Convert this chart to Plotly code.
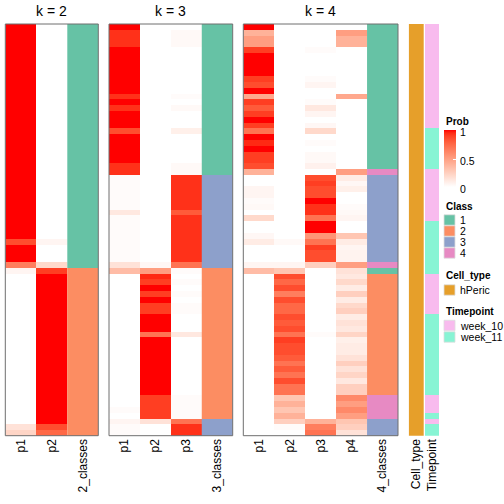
import plotly.graph_objects as go
import numpy as np

# ---------------- data ----------------
rows = list(range(71))

p1_k2 = [1.0, 1.0, 1.0, 1.0, 1.0, 1.0, 1.0, 1.0, 1.0, 1.0,
         1.0, 1.0, 1.0, 1.0, 1.0, 1.0, 1.0, 1.0, 1.0, 1.0,
         1.0, 1.0, 1.0, 1.0, 1.0, 1.0, 1.0, 1.0, 1.0, 1.0,
         1.0, 1.0, 1.0, 1.0, 1.0, 1.0, 1.0, 0.85, 1.0, 1.0,
         1.0, 0.65, 0.05, 0.0, 0.0, 0.0, 0.0, 0.0, 0.0, 0.0,
         0.0, 0.0, 0.0, 0.0, 0.0, 0.0, 0.0, 0.0, 0.0, 0.0,
         0.0, 0.0, 0.0, 0.0, 0.0, 0.0, 0.0, 0.0, 0.0, 0.15,
         0.22]
p2_k2 = [0.0, 0.0, 0.0, 0.0, 0.0, 0.0, 0.0, 0.0, 0.0, 0.0,
         0.0, 0.0, 0.0, 0.0, 0.0, 0.0, 0.0, 0.0, 0.0, 0.0,
         0.0, 0.0, 0.0, 0.0, 0.0, 0.0, 0.0, 0.0, 0.0, 0.0,
         0.0, 0.0, 0.0, 0.0, 0.0, 0.0, 0.0, 0.05, 0.0, 0.0,
         0.0, 0.2, 0.9, 1.0, 1.0, 1.0, 1.0, 1.0, 1.0, 1.0,
         1.0, 1.0, 1.0, 1.0, 1.0, 1.0, 1.0, 1.0, 1.0, 1.0,
         1.0, 1.0, 1.0, 1.0, 1.0, 1.0, 1.0, 1.0, 1.0, 0.85,
         0.75]
class_k2 = [1, 1, 1, 1, 1, 1, 1, 1, 1, 1,
            1, 1, 1, 1, 1, 1, 1, 1, 1, 1,
            1, 1, 1, 1, 1, 1, 1, 1, 1, 1,
            1, 1, 1, 1, 1, 1, 1, 1, 1, 1,
            1, 1, 2, 2, 2, 2, 2, 2, 2, 2,
            2, 2, 2, 2, 2, 2, 2, 2, 2, 2,
            2, 2, 2, 2, 2, 2, 2, 2, 2, 2,
            2]

p1_k3 = [1.0, 0.93, 0.93, 0.93, 1.0, 1.0, 1.0, 1.0, 1.0, 1.0,
         1.0, 1.0, 0.93, 1.0, 0.93, 1.0, 1.0, 1.0, 0.85, 1.0,
         1.0, 1.0, 1.0, 1.0, 0.93, 0.93, 0.02, 0.02, 0.02, 0.02,
         0.02, 0.02, 0.12, 0.02, 0.02, 0.02, 0.02, 0.02, 0.02, 0.02,
         0.02, 0.15, 0.35, 0.0, 0.0, 0.0, 0.0, 0.0, 0.0, 0.0,
         0.0, 0.0, 0.0, 0.0, 0.0, 0.0, 0.0, 0.0, 0.0, 0.0,
         0.0, 0.0, 0.0, 0.0, 0.0, 0.0, 0.02, 0.0, 0.05, 0.02,
         0.02]
p2_k3 = [0.0, 0.0, 0.0, 0.0, 0.0, 0.0, 0.0, 0.0, 0.0, 0.0,
         0.0, 0.0, 0.0, 0.0, 0.0, 0.0, 0.0, 0.0, 0.0, 0.0,
         0.0, 0.0, 0.0, 0.0, 0.0, 0.0, 0.0, 0.0, 0.0, 0.0,
         0.0, 0.0, 0.0, 0.0, 0.0, 0.0, 0.0, 0.0, 0.0, 0.0,
         0.0, 0.04, 0.5, 0.95, 0.9, 1.0, 0.9, 1.0, 0.9, 0.9,
         1.0, 1.0, 1.0, 0.7, 1.0, 1.0, 1.0, 1.0, 1.0, 1.0,
         1.0, 1.0, 1.0, 1.0, 0.9, 0.9, 0.9, 0.9, 0.15, 0.0,
         0.0]
p3_k3 = [0.0, 0.03, 0.03, 0.03, 0.0, 0.0, 0.0, 0.0, 0.0, 0.0,
         0.0, 0.0, 0.02, 0.0, 0.03, 0.0, 0.0, 0.0, 0.08, 0.0,
         0.0, 0.0, 0.0, 0.0, 0.03, 0.03, 0.93, 0.93, 0.93, 0.93,
         0.93, 0.93, 0.8, 0.93, 0.93, 0.93, 0.93, 0.93, 0.93, 0.93,
         0.93, 0.7, 0.02, 0.0, 0.02, 0.0, 0.02, 0.0, 0.02, 0.02,
         0.0, 0.0, 0.0, 0.12, 0.0, 0.0, 0.0, 0.0, 0.0, 0.0,
         0.0, 0.0, 0.0, 0.0, 0.02, 0.02, 0.02, 0.02, 0.7, 0.93,
         0.93]
class_k3 = [1, 1, 1, 1, 1, 1, 1, 1, 1, 1,
            1, 1, 1, 1, 1, 1, 1, 1, 1, 1,
            1, 1, 1, 1, 1, 1, 3, 3, 3, 3,
            3, 3, 3, 3, 3, 3, 3, 3, 3, 3,
            3, 3, 2, 2, 2, 2, 2, 2, 2, 2,
            2, 2, 2, 2, 2, 2, 2, 2, 2, 2,
            2, 2, 2, 2, 2, 2, 2, 2, 3, 3,
            3]

p1_k4 = [1.0, 0.4, 0.5, 0.5, 0.9, 1.0, 1.0, 1.0, 1.0, 0.9,
         0.85, 1.0, 0.45, 0.9, 0.8, 0.9, 1.0, 0.9, 0.7, 1.0,
         0.95, 1.0, 0.9, 0.9, 0.85, 0.4, 0.0, 0.0, 0.05, 0.05,
         0.02, 0.03, 0.0, 0.2, 0.0, 0.0, 0.04, 0.1, 0.0, 0.0,
         0.0, 0.05, 0.35, 0.0, 0.0, 0.0, 0.0, 0.0, 0.0, 0.0,
         0.0, 0.0, 0.0, 0.0, 0.0, 0.0, 0.0, 0.0, 0.0, 0.0,
         0.0, 0.0, 0.0, 0.0, 0.0, 0.0, 0.0, 0.0, 0.0, 0.0,
         0.0]
p2_k4 = [0.0, 0.0, 0.0, 0.0, 0.0, 0.0, 0.0, 0.0, 0.0, 0.0,
         0.0, 0.0, 0.0, 0.0, 0.0, 0.0, 0.0, 0.0, 0.0, 0.0,
         0.0, 0.0, 0.0, 0.0, 0.0, 0.0, 0.0, 0.0, 0.0, 0.0,
         0.0, 0.0, 0.0, 0.0, 0.0, 0.0, 0.0, 0.03, 0.0, 0.0,
         0.0, 0.05, 0.3, 0.85, 0.75, 0.85, 0.65, 0.85, 0.75, 0.75,
         0.85, 0.8, 0.85, 0.7, 0.9, 0.85, 0.85, 0.8, 0.7, 0.8,
         0.7, 0.85, 0.7, 0.7, 0.3, 0.4, 0.3, 0.4, 0.25, 0.02,
         0.0]
p3_k4 = [0.0, 0.0, 0.0, 0.0, 0.02, 0.0, 0.0, 0.0, 0.0, 0.02,
         0.05, 0.0, 0.0, 0.02, 0.12, 0.05, 0.0, 0.04, 0.2, 0.0,
         0.02, 0.0, 0.03, 0.03, 0.07, 0.0, 0.85, 0.9, 0.85, 0.85,
         1.0, 0.93, 0.93, 0.7, 1.0, 1.0, 0.55, 0.7, 0.9, 0.85,
         0.85, 0.25, 0.0, 0.0, 0.0, 0.0, 0.0, 0.0, 0.0, 0.0,
         0.0, 0.0, 0.0, 0.02, 0.0, 0.0, 0.0, 0.0, 0.0, 0.0,
         0.0, 0.0, 0.0, 0.0, 0.0, 0.0, 0.0, 0.0, 0.4, 0.65,
         0.7]
p4_k4 = [0.0, 0.5, 0.4, 0.4, 0.0, 0.0, 0.0, 0.0, 0.0, 0.0,
         0.0, 0.0, 0.45, 0.0, 0.0, 0.0, 0.0, 0.0, 0.0, 0.0,
         0.0, 0.0, 0.0, 0.0, 0.0, 0.5, 0.1, 0.04, 0.08, 0.0,
         0.0, 0.02, 0.03, 0.05, 0.0, 0.0, 0.3, 0.1, 0.05, 0.06,
         0.06, 0.5, 0.15, 0.12, 0.2, 0.1, 0.25, 0.1, 0.2, 0.25,
         0.1, 0.15, 0.12, 0.22, 0.08, 0.1, 0.1, 0.15, 0.25, 0.15,
         0.22, 0.12, 0.25, 0.25, 0.6, 0.5, 0.6, 0.5, 0.3, 0.25,
         0.15]
class_k4 = [1, 1, 1, 1, 1, 1, 1, 1, 1, 1,
            1, 1, 1, 1, 1, 1, 1, 1, 1, 1,
            1, 1, 1, 1, 1, 4, 3, 3, 3, 3,
            3, 3, 3, 3, 3, 3, 3, 3, 3, 3,
            3, 4, 1, 2, 2, 2, 2, 2, 2, 2,
            2, 2, 2, 2, 2, 2, 2, 2, 2, 2,
            2, 2, 2, 2, 4, 4, 4, 4, 3, 3,
            3]

cell_type = ["hPeric"] * 71
timepoint = ["week_10", "week_10", "week_10", "week_10", "week_10", "week_10", "week_10", "week_10", "week_10", "week_10",
             "week_10", "week_10", "week_10", "week_10", "week_10", "week_10", "week_10", "week_10", "week_11", "week_11",
             "week_11", "week_11", "week_11", "week_11", "week_11", "week_10", "week_10", "week_10", "week_10", "week_10",
             "week_10", "week_10", "week_10", "week_10", "week_11", "week_11", "week_11", "week_11", "week_11", "week_11",
             "week_11", "week_11", "week_11", "week_10", "week_10", "week_10", "week_10", "week_10", "week_10", "week_10",
             "week_11", "week_11", "week_11", "week_11", "week_11", "week_11", "week_11", "week_11", "week_11", "week_11",
             "week_11", "week_11", "week_11", "week_11", "week_10", "week_10", "week_10", "week_11", "week_10", "week_11",
             "week_11"]

class_levels = [1, 2, 3, 4]
class_colors = ["#66C2A5", "#FC8D62", "#8DA0CB", "#E78AC3"]
cell_levels = ["hPeric"]
cell_colors = ["#E69F2A"]
time_levels = ["week_10", "week_11"]
time_colors = ["#F8BBEE", "#87F4D4"]
prob_ticks = [0, 0.5, 1]
prob_ticktext = ["0", "0.5", "1"]

# ---------------- helpers ----------------
W = H = 504
FONT = "Liberation Sans, Arial, Helvetica, sans-serif"


def px_x(p):
    return p / W


def px_y(p):
    return 1 - p / H


MAT = np.array([[0.4124, 0.3576, 0.1805], [0.2126, 0.7152, 0.0722], [0.0193, 0.1192, 0.9505]])
WHITE = np.array([0.95047, 1.0, 1.08883])


def srgb_to_lab(rgb):
    c = np.array(rgb, dtype=float) / 255.0
    lin = np.where(c <= 0.04045, c / 12.92, ((c + 0.055) / 1.055) ** 2.4)
    xyz = MAT @ lin / WHITE
    f = np.where(xyz > 0.008856, np.cbrt(xyz), 7.787 * xyz + 16 / 116)
    return np.array([116 * f[1] - 16, 500 * (f[0] - f[1]), 200 * (f[1] - f[2])])


def lab_to_srgb(lab):
    L, a, b = lab
    fy = (L + 16) / 116
    f = np.array([fy + a / 500, fy, fy - b / 200])
    xyz = np.where(f ** 3 > 0.008856, f ** 3, (f - 16 / 116) / 7.787) * WHITE
    lin = np.clip(np.linalg.solve(MAT, xyz), 0, 1)
    c = np.where(lin <= 0.0031308, 12.92 * lin, 1.055 * lin ** (1 / 2.4) - 0.055)
    c = np.clip(np.round(c * 255), 0, 255).astype(int)
    return "rgb(%d,%d,%d)" % tuple(c)


lab_w = srgb_to_lab([255, 255, 255])
lab_r = srgb_to_lab([255, 0, 0])
prob_scale = [[float(t), lab_to_srgb(lab_w + (lab_r - lab_w) * t)] for t in np.linspace(0, 1, 21)]


def discrete_scale(colors):
    n = len(colors)
    sc = []
    for i, c in enumerate(colors):
        sc.append([i / n, c])
        sc.append([(i + 1) / n, c])
    return sc


fig = go.Figure()

panels = [
    ("x", "xaxis", ["p1", "p2"], [p1_k2, p2_k2], class_k2, "2_classes", "k = 2", (5.3, 98.3)),
    ("x2", "xaxis2", ["p1", "p2", "p3"], [p1_k3, p2_k3, p3_k3], class_k3, "3_classes", "k = 3", (109, 232.7)),
    ("x3", "xaxis3", ["p1", "p2", "p3", "p4"], [p1_k4, p2_k4, p3_k4, p4_k4], class_k4, "4_classes", "k = 4", (243.3, 398)),
]

axis_common = dict(anchor="y", side="bottom", tickangle=-90, ticks="", showgrid=False,
                   zeroline=False, showline=False, fixedrange=True,
                   tickfont=dict(size=12, family=FONT, color="black"))
layout_axes = {}
shapes = []
annotations = []
first = True
CB_TOP, CB_BOT = 130.5, 187
for xa, axname, cols, series, classes, cname, title, dom in panels:
    ncol = len(cols)
    z = [list(r) for r in zip(*series)]
    fig.add_trace(go.Heatmap(
        x=list(range(ncol)), y=rows, z=z, xaxis=xa, yaxis="y",
        colorscale=prob_scale, zmin=0, zmax=1,
        showscale=first,
        colorbar=dict(
            x=px_x(444), xanchor="left", xref="paper", xpad=0, ypad=0,
            y=px_y(CB_TOP), yanchor="top", yref="paper",
            len=(CB_BOT - CB_TOP) / H, lenmode="fraction", thickness=12, thicknessmode="pixels",
            outlinewidth=0, tickvals=prob_ticks, showticklabels=False,
            ticks="inside", ticklen=3, tickcolor="white", tickwidth=1,
        ),
        hoverinfo="skip",
    ))
    first = False
    fig.add_trace(go.Heatmap(
        x=[ncol], y=rows, z=[[c] for c in classes], xaxis=xa, yaxis="y",
        colorscale=discrete_scale(class_colors), zmin=0.5, zmax=4.5,
        showscale=False, hoverinfo="skip",
    ))
    layout_axes[axname] = dict(domain=[px_x(dom[0]), px_x(dom[1])], range=[-0.5, ncol + 0.5],
                               tickvals=list(range(ncol + 1)), ticktext=cols + [cname],
                               **axis_common)
    shapes.append(dict(type="rect", xref=xa + " domain", yref="y domain",
                       x0=0, x1=1, y0=0, y1=1, line=dict(color="#6E6E6E", width=1)))
    annotations.append(dict(text=title, xref=xa + " domain", yref="paper", x=0.5, y=px_y(10.5),
                            showarrow=False, xanchor="center", yanchor="middle",
                            font=dict(size=14, family=FONT, color="black")))

# colorbar labels
for v, t in zip(prob_ticks, prob_ticktext):
    ypx = CB_BOT - (CB_BOT - CB_TOP) * v + 2
    annotations.append(dict(text=t, xref="paper", yref="paper", x=px_x(457.5), y=px_y(ypx),
                            xanchor="left", yanchor="middle", showarrow=False,
                            font=dict(size=10.5, family=FONT, color="black")))

cell_codes = [cell_levels.index(v) + 1 for v in cell_type]
time_codes = [time_levels.index(v) + 1 for v in timepoint]
fig.add_trace(go.Heatmap(
    x=[0], y=rows, z=[[c] for c in cell_codes], xaxis="x4", yaxis="y",
    colorscale=discrete_scale(cell_colors), zmin=0.5, zmax=1.5, showscale=False, hoverinfo="skip"))
fig.add_trace(go.Heatmap(
    x=[0], y=rows, z=[[c] for c in time_codes], xaxis="x5", yaxis="y",
    colorscale=discrete_scale(time_colors), zmin=0.5, zmax=2.5, showscale=False, hoverinfo="skip"))
layout_axes["xaxis4"] = dict(domain=[px_x(408.7), px_x(424)], range=[-0.5, 0.5],
                             tickvals=[0], ticktext=["Cell_type"], **axis_common)
layout_axes["xaxis5"] = dict(domain=[px_x(425), px_x(439.3)], range=[-0.5, 0.5],
                             tickvals=[0], ticktext=["Timepoint"], **axis_common)
layout_axes["yaxis"] = dict(domain=[px_y(435.7), px_y(24)], range=[70.5, -0.5],
                            visible=False, fixedrange=True)


# ---------------- legends ----------------
def legend_title(text, ypx):
    annotations.append(dict(text="<b>%s</b>" % text, xref="paper", yref="paper",
                            x=px_x(443.5), y=px_y(ypx), xanchor="left", yanchor="middle",
                            showarrow=False, font=dict(size=10, family=FONT, color="black")))


def legend_item(label, color, ypx):
    shapes.append(dict(type="rect", xref="paper", yref="paper",
                       x0=px_x(444), x1=px_x(455), y0=px_y(ypx + 5.2), y1=px_y(ypx - 5.2),
                       fillcolor=color, line=dict(color="#DDDDDD", width=0.8)))
    annotations.append(dict(text=label, xref="paper", yref="paper",
                            x=px_x(458), y=px_y(ypx), xanchor="left", yanchor="middle",
                            showarrow=False, font=dict(size=10.5, family=FONT, color="black")))


legend_title("Prob", 121.5)
legend_title("Class", 206)
for lv, col, yy in zip(class_levels, class_colors, [220, 231, 242, 253]):
    legend_item(str(lv), col, yy)
legend_title("Cell_type", 275)
for lv, col, yy in zip(cell_levels, cell_colors, [290]):
    legend_item(lv, col, yy)
legend_title("Timepoint", 311)
for lv, col, yy in zip(time_levels, time_colors, [325.5, 337]):
    legend_item(lv, col, yy)

fig.update_layout(
    width=W, height=H, autosize=False,
    margin=dict(l=0, r=0, t=0, b=0),
    paper_bgcolor="white", plot_bgcolor="white",
    showlegend=False,
    shapes=shapes, annotations=annotations,
    font=dict(family=FONT),
    **layout_axes,
)

fig.write_html("out.html", config={"displayModeBar": False},
               post_script="document.body.style.margin='0';")
